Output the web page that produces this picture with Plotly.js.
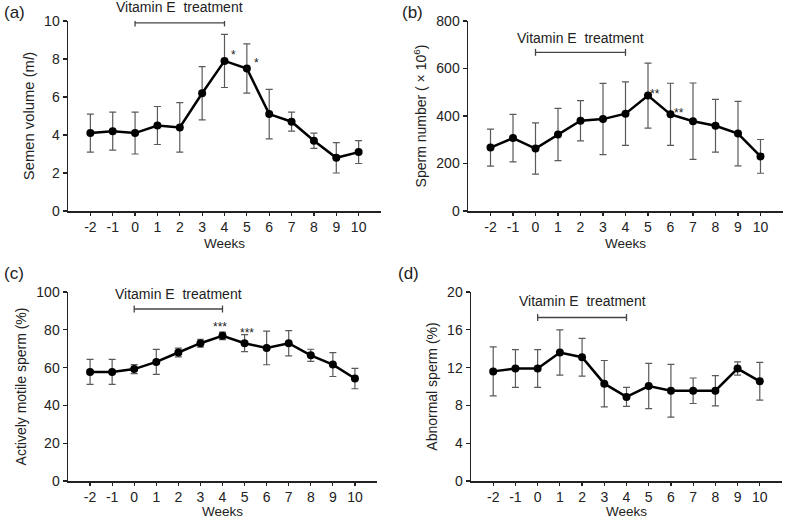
<!DOCTYPE html>
<html>
<head>
<meta charset="utf-8">
<script src="https://cdn.plot.ly/plotly-3.0.1.min.js"></script>
<style>html,body{margin:0;padding:0;background:#fff;}#chart{width:788px;height:520px;}</style>
</head>
<body>
<div id="chart"></div>
<script>
// ---- data ----
var weeks = [-2, -1, 0, 1, 2, 3, 4, 5, 6, 7, 8, 9, 10];
var tickLabels = ['-2', '-1', '0', '1', '2', '3', '4', '5', '6', '7', '8', '9', '10'];
var xTitle = 'Weeks';

var semenVolume = [4.1, 4.2, 4.1, 4.5, 4.4, 6.2, 7.9, 7.5, 5.1, 4.7, 3.7, 2.8, 3.1];
var semenVolumeErr = [1.0, 1.0, 1.1, 1.0, 1.3, 1.4, 1.4, 1.3, 1.3, 0.5, 0.4, 0.8, 0.6];

var spermNumber = [267, 307, 263, 322, 380, 387, 410, 486, 407, 378, 359, 326, 230];
var spermNumberErr = [78, 100, 108, 110, 85, 150, 134, 137, 131, 161, 111, 136, 71];

var motileSperm = [57.7, 57.7, 59.2, 63.0, 68.0, 72.9, 76.8, 72.9, 70.4, 72.9, 66.5, 61.6, 54.2];
var motileSpermErr = [6.6, 6.6, 2.4, 6.6, 2.3, 2.1, 2.0, 4.5, 8.9, 6.7, 3.2, 6.3, 5.4];

var abnormalSperm = [11.6, 11.9, 11.9, 13.6, 13.1, 10.3, 8.9, 10.05, 9.55, 9.55, 9.55, 11.9, 10.55];
var abnormalSpermErr = [2.6, 2.0, 2.0, 2.4, 2.0, 2.45, 1.0, 2.4, 2.8, 1.35, 1.6, 0.7, 2.0];

var treatStart = 0, treatEnd = 4;
var treatLabel = 'Vitamin E\u00a0 treatment';

// significance marks: [x, y, text]
var sigA = [[4.42, 8.4, '*'], [5.43, 8.0, '*']];
var sigB = [[5.31, 511, '**'], [6.38, 431, '**']];
var sigC = [[3.88, 83.5, '***'], [5.09, 80.4, '***']];

// ---- styling / layout ----
var FONT = 'Liberation Sans, Arial, sans-serif';
var W = 788, H = 520;
function px(x){return x / W;}
function py(y){return 1 - y / H;}

var panels = [
  {id:'', data: semenVolume, err: semenVolumeErr, dom:[px(68), px(381)], ydom:[py(211), py(21)], wy:243,
   range:[0,10], dtick:2, title:'Semen volume (m<i>l</i>)', tsize:14.8, tline:9.9, tlabel:10.72, sig:sigA, letter:'(a)', lx:2, ly:12},
  {id:'2', data: spermNumber, err: spermNumberErr, dom:[px(468), px(783)], ydom:[py(211), py(21)], wy:243,
   range:[0,800], dtick:200, title:'Sperm number ( \u00d7 10<sup>6</sup>)', tsize:14, tline:668, tlabel:730, sig:sigB, letter:'(b)', lx:400, ly:12},
  {id:'3', data: motileSperm, err: motileSpermErr, dom:[px(68), px(377)], ydom:[py(481), py(292)], wy:511.5,
   range:[0,100], dtick:20, title:'Actively motile sperm (%)', tsize:14, tline:91, tlabel:99, sig:sigC, letter:'(c)', lx:2, ly:273},
  {id:'4', data: abnormalSperm, err: abnormalSpermErr, dom:[px(471), px(782)], ydom:[py(481), py(292)], wy:511.5,
   range:[0,20], dtick:4, title:'Abnormal sperm (%)', tsize:14, tline:17.3, tlabel:19.0, sig:[], letter:'(d)', lx:396, ly:273}
];

var traces = [];
var layout = {
  width: W, height: H,
  margin: {l:0, r:0, t:0, b:0},
  paper_bgcolor: '#fff', plot_bgcolor: 'rgba(0,0,0,0)',
  showlegend: false,
  font: {family: FONT, size: 14, color: '#222'},
  shapes: [], annotations: []
};

panels.forEach(function(p){
  var xa = 'x' + p.id, ya = 'y' + p.id;
  traces.push({
    type: 'scatter', mode: 'lines+markers', x: weeks, y: p.data,
    xaxis: xa, yaxis: ya, cliponaxis: false,
    line: {color: '#000', width: 2.5},
    marker: {color: '#000', size: 8},
    error_y: {type: 'data', array: p.err, visible: true, color: '#5a5a5a', thickness: 1.2, width: 3.5}
  });
  layout['xaxis' + p.id] = {
    domain: p.dom, anchor: ya, range: [-3, 11],
    tickmode: 'array', tickvals: weeks, ticktext: tickLabels,
    ticks: 'outside', ticklen: 3, tickwidth: 1.2, tickcolor: '#222',
    showline: true, linecolor: '#222', linewidth: 1.5, showgrid: false, zeroline: false,
    tickfont: {family: FONT, size: 14, color: '#222'}
  };
  layout['yaxis' + p.id] = {
    domain: p.ydom, anchor: xa, range: p.range, dtick: p.dtick, tick0: 0,
    ticks: 'outside', ticklen: 4, tickwidth: 1.2, tickcolor: '#222',
    showline: true, linecolor: '#222', linewidth: 1.5, showgrid: false, zeroline: false,
    tickfont: {family: FONT, size: 14, color: '#222'},
    title: {text: p.title, font: {family: FONT, size: p.tsize, color: '#222'}, standoff: 6}
  };
  // x-axis title
  layout.annotations.push({xref: xa + ' domain', yref: 'paper', x: 0.5, y: py(p.wy), xanchor: 'center', yanchor: 'middle',
    text: xTitle, showarrow: false, font: {family: FONT, size: 13.5, color: '#222'}});
  // treatment bracket
  layout.shapes.push({type:'line', xref: xa, yref: ya, x0: treatStart, x1: treatEnd, y0: p.tline, y1: p.tline,
    line: {color:'#444', width: 1.3}});
  [treatStart, treatEnd].forEach(function(xv){
    layout.shapes.push({type:'line', xref: xa, yref: ya, ysizemode:'pixel', yanchor: p.tline,
      x0: xv, x1: xv, y0: -3.5, y1: 3.5, line: {color:'#444', width: 1.3}});
  });
  layout.annotations.push({xref: xa, yref: ya + ' domain', x: (treatStart + treatEnd) / 2,
    y: (p.tlabel - p.range[0]) / (p.range[1] - p.range[0]), xanchor: 'center', yanchor: 'middle',
    text: treatLabel, showarrow: false, font: {family: FONT, size: 14, color: '#222'}});
  p.sig.forEach(function(s){
    layout.annotations.push({xref: xa, yref: ya, x: s[0], y: s[1], yshift: -4, text: s[2], showarrow: false,
      font: {family: FONT, size: 12, color: '#222'}});
  });
  layout.annotations.push({xref:'paper', yref:'paper', x: px(p.lx), y: py(p.ly), xanchor:'left', yanchor:'middle',
    text: p.letter, showarrow: false, font: {family: FONT, size: 17, color: '#222'}});
});

Plotly.newPlot('chart', traces, layout, {displayModeBar: false, staticPlot: true});
</script>
</body>
</html>
